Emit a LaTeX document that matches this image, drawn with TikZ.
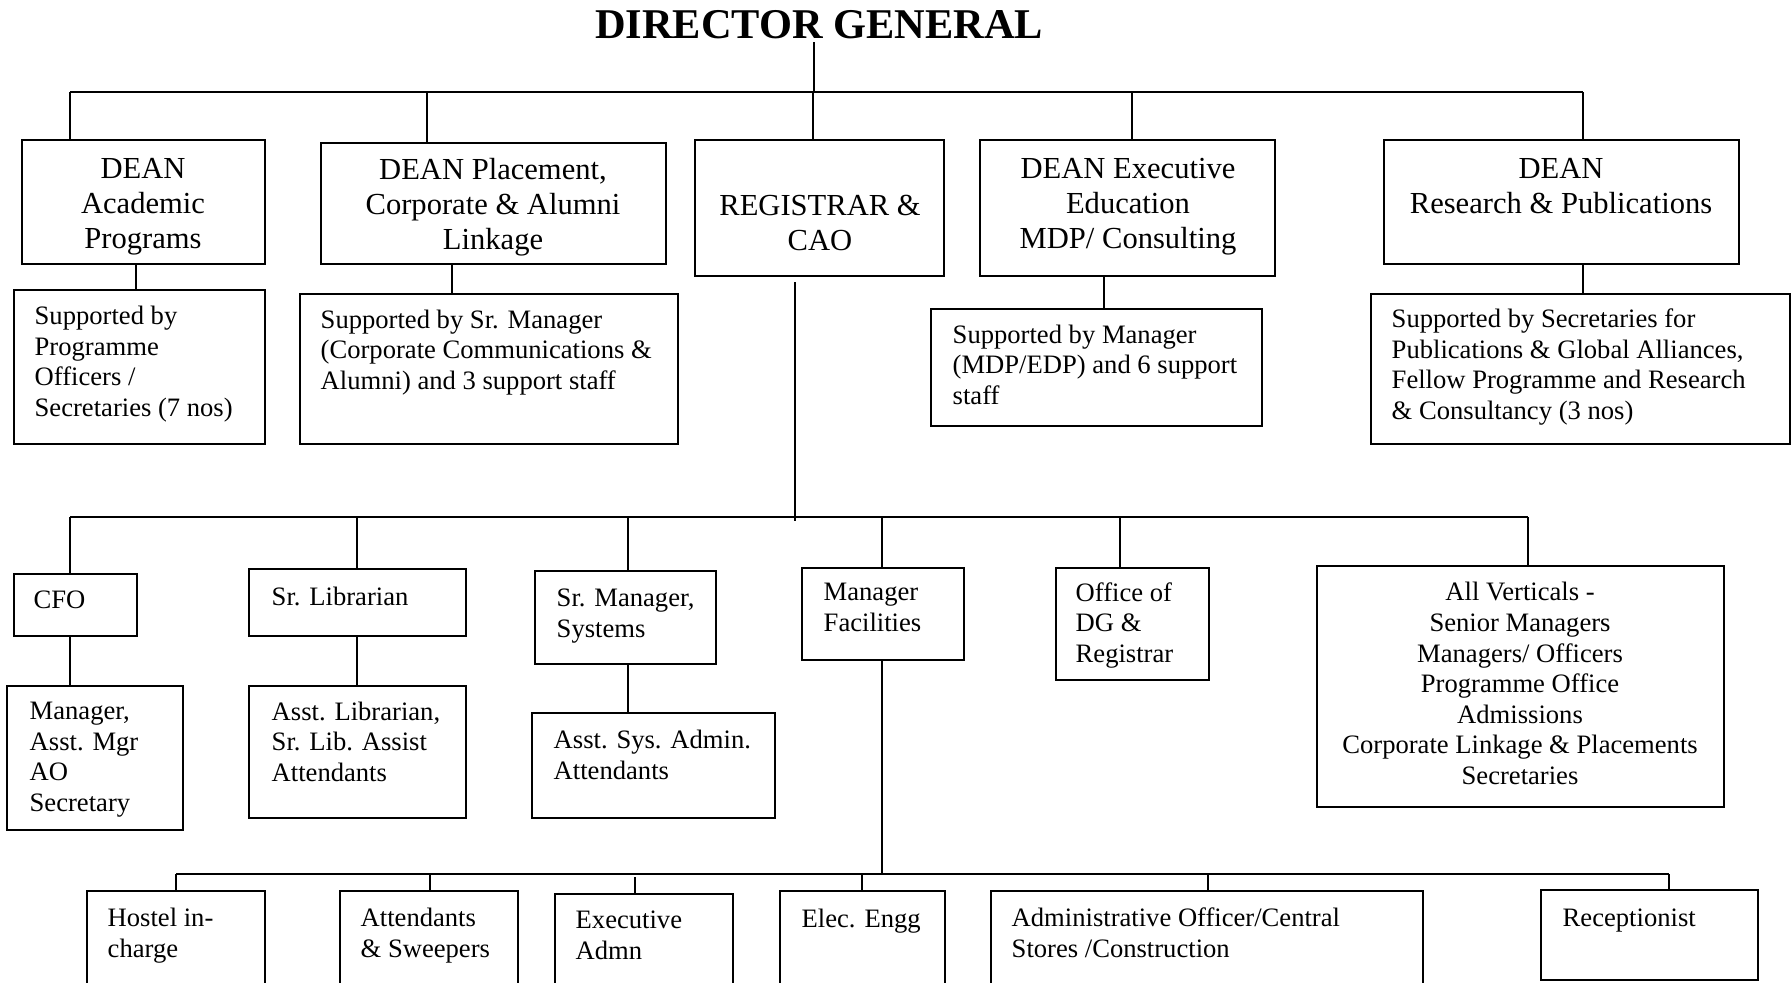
\documentclass[tikz,border=0pt]{standalone}
\usepackage{fontspec}
\setmainfont{Liberation Serif}
\usetikzlibrary{fit}
\tikzset{
  orgbox/.style={draw, line width=0.2mm, inner sep=0pt},
  link/.style={line width=0.18mm},
  bigtxt/.style={font=\fontsize{8.7}{9.82}\selectfont, align=center, inner sep=0pt, anchor=base},
  smalltxt/.style={font=\fontsize{7.57}{8.68}\selectfont, align=left, inner sep=0pt, anchor=base west},
}
\begin{document}
\begin{tikzpicture}[x=0.1mm,y=-0.1mm]
  \useasboundingbox (0,0) rectangle (1792,982);
  \clip (0,0) rectangle (1792,982);
  \pgfmathsetmacro{\busa}{92}
  \pgfmathsetmacro{\busb}{517}
  \pgfmathsetmacro{\busc}{874}
  % top (text nodes sit on the baseline of their last line)
  \node[font=\fontsize{12.06}{14}\selectfont\bfseries, inner sep=0pt, anchor=base] (dg) at (819,38) {DIRECTOR GENERAL};
  % deans and registrar
  \node[orgbox, fit={(22,140) (265,264)}] (acad) {};
  \node[orgbox, fit={(321,143) (666,264)}] (place) {};
  \node[orgbox, fit={(695,140) (944,276)}] (reg) {};
  \node[orgbox, fit={(980,140) (1275,276)}] (exec) {};
  \node[orgbox, fit={(1384,140) (1739,264)}] (res) {};
  \node[bigtxt] (acadt) at (143,248) {DEAN\\Academic\\Programs};
  \node[bigtxt] (placet) at (493,249) {DEAN Placement,\\Corporate \& Alumni\\Linkage};
  \node[bigtxt] (regt) at (820,250) {REGISTRAR \&\\CAO};
  \node[bigtxt] (exect) at (1128,248) {DEAN Executive\\Education\\MDP/ Consulting};
  \node[bigtxt] (rest) at (1561,213) {DEAN\\Research \& Publications};
  % support staff
  \node[orgbox, fit={(14,290) (265,444)}] (acadsup) {};
  \node[orgbox, fit={(300,294) (678,444)}] (placesup) {};
  \node[orgbox, fit={(931,309) (1262,426)}] (execsup) {};
  \node[orgbox, fit={(1371,294) (1790,444)}] (ressup) {};
  \node[smalltxt] (acadsupt) at (34,416) {Supported by\\Programme\\Officers /\\Secretaries (7 nos)};
  \node[smalltxt] (placesupt) at (320,389) {Supported by Sr. Manager\\(Corporate Communications \&\\Alumni) and 3 support staff};
  \node[smalltxt] (execsupt) at (952,404) {Supported by Manager\\(MDP/EDP) and 6 support\\staff};
  \node[smalltxt] (ressupt) at (1391,419) {Supported by Secretaries for\\Publications \& Global Alliances,\\Fellow Programme and Research\\\& Consultancy (3 nos)};
  % under the registrar
  \node[orgbox, fit={(14,574) (137,636)}] (cfo) {};
  \node[orgbox, fit={(249,569) (466,636)}] (lib) {};
  \node[orgbox, fit={(535,571) (716,664)}] (sys) {};
  \node[orgbox, fit={(802,568) (964,660)}] (fac) {};
  \node[orgbox, fit={(1056,568) (1209,680)}] (ofc) {};
  \node[orgbox, fit={(1317,566) (1724,807)}] (allv) {};
  \node[smalltxt] (cfot) at (33,608) {CFO};
  \node[smalltxt] (libt) at (271,605) {Sr. Librarian};
  \node[smalltxt] (syst) at (556,637) {Sr. Manager,\\Systems};
  \node[smalltxt] (fact) at (823,631) {Manager\\Facilities};
  \node[smalltxt] (ofct) at (1075,662) {Office of\\DG \&\\Registrar};
  \node[smalltxt, align=center, anchor=base] (allvt) at (1520,784) {All Verticals -\\Senior Managers\\Managers/ Officers\\Programme Office\\Admissions\\Corporate Linkage \& Placements\\Secretaries};
  \node[orgbox, fit={(7,686) (183,830)}] (cfosub) {};
  \node[orgbox, fit={(249,686) (466,818)}] (libsub) {};
  \node[orgbox, fit={(532,713) (775,818)}] (syssub) {};
  \node[smalltxt] (cfosubt) at (29,811) {Manager,\\Asst. Mgr\\AO\\Secretary};
  \node[smalltxt] (libsubt) at (271,781) {Asst. Librarian,\\Sr. Lib. Assist\\Attendants};
  \node[smalltxt] (syssubt) at (553,779) {Asst. Sys. Admin.\\Attendants};
  % under facilities
  \node[orgbox, fit={(87,891) (265,1000)}] (hostel) {};
  \node[orgbox, fit={(340,891) (518,1000)}] (attend) {};
  \node[orgbox, fit={(555,894) (733,1000)}] (exadm) {};
  \node[orgbox, fit={(780,891) (945,1000)}] (elec) {};
  \node[orgbox, fit={(991,891) (1423,1000)}] (admin) {};
  \node[orgbox, fit={(1541,890) (1758,980)}] (recep) {};
  \node[smalltxt] (hostelt) at (107,957) {Hostel in-\\charge};
  \node[smalltxt] (attendt) at (360,957) {Attendants\\\& Sweepers};
  \node[smalltxt] (exadmt) at (575,959) {Executive\\Admn};
  \node[smalltxt] (elect) at (801,927) {Elec. Engg};
  \node[smalltxt] (admint) at (1011,957) {Administrative Officer/Central\\Stores /Construction};
  \node[smalltxt] (recept) at (1562,926) {Receptionist};
  % links
  \coordinate (dgdrop) at (814,\busa);
  \draw[link] (dgdrop |- 0,42) -- (dgdrop);
  \foreach \px/\nm in {70/acad,427/place,813/reg,1132/exec,1583/res}{
    \coordinate (t\nm) at (\px,\busa);
    \draw[link] (t\nm) -- (t\nm |- \nm.north);
  }
  \draw[link] (tacad) -- (tres);
  \foreach \px/\nm in {136/acad,452/place,1104/exec,1583/res}
    \draw[link] (\nm.south -| \px,0) -- (\nm sup.north -| \px,0);
  \coordinate (regdrop) at (795,\busb);
  \draw[link] (regdrop |- 0,282) -- ([yshift=-1]regdrop);
  \foreach \px/\nm in {70/cfo,357/lib,628/sys,882/fac,1120/ofc,1528/allv}{
    \coordinate (m\nm) at (\px,\busb);
    \draw[link] (m\nm) -- (m\nm |- \nm.north);
  }
  \draw[link] (mcfo) -- (mallv);
  \foreach \px/\nm in {70/cfo,357/lib,628/sys}
    \draw[link] (\nm.south -| \px,0) -- (\nm sub.north -| \px,0);
  \coordinate (facdrop) at (882,\busc);
  \draw[link] (fac.south -| facdrop) -- (facdrop);
  \foreach \px/\nm in {176/hostel,430/attend,862/elec,1208/admin,1669/recep}{
    \coordinate (b\nm) at (\px,\busc);
    \draw[link] (b\nm) -- (b\nm |- \nm.north);
  }
  \coordinate (bexadm) at (635,877);
  \draw[link] (bexadm) -- (bexadm |- exadm.north);
  \draw[link] (bhostel) -- (brecep);
\end{tikzpicture}
\end{document}
